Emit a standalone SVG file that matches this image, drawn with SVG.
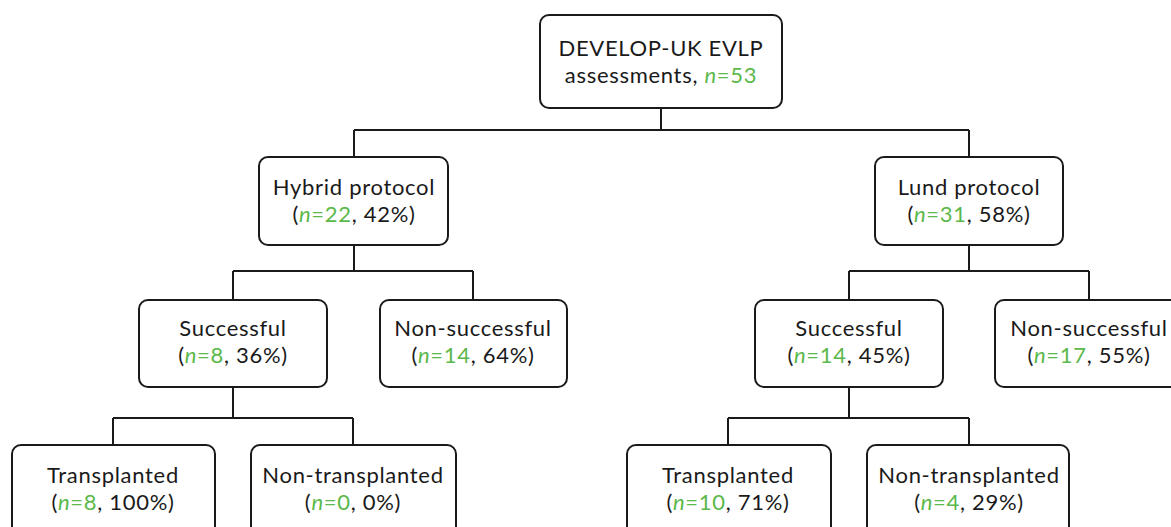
<svg xmlns="http://www.w3.org/2000/svg" width="1171" height="527" viewBox="0 0 1171 527">
<style>
.box{fill:#fff;stroke:#1a1a1a;stroke-width:2}
.ln{fill:none;stroke:#1a1a1a;stroke-width:2}
text{font-family:Lato,"Open Sans","Liberation Sans",sans-serif;font-size:22px;letter-spacing:0.7px;fill:#1a1a1a;text-anchor:middle}
.g{fill:#5bb84a}
.i{font-style:italic}
</style>
<rect width="1171" height="527" fill="#fff"/>
<g id="connectors">
<path class="ln" d="M661,108 V130 M354,130 H969 M354,130 V157 M969,130 V157"/>
<path class="ln" d="M354,245 V271 M233,271 H473 M233,271 V300 M473,271 V300"/>
<path class="ln" d="M969,245 V271 M849,271 H1089 M849,271 V300 M1089,271 V300"/>
<path class="ln" d="M233,387 V418 M113,418 H353 M113,418 V445 M353,418 V445"/>
<path class="ln" d="M849,387 V418 M728,418 H969 M728,418 V445 M969,418 V445"/>
</g>
<g id="root">
<rect class="box" x="540" y="15" width="242" height="93" rx="9"/>
<text x="661" y="56">DEVELOP-UK EVLP</text>
<text x="661" y="83">assessments, <tspan class="g i">n</tspan><tspan class="g">=53</tspan></text>
</g>
<g id="hybrid">
<rect class="box" x="259" y="157" width="189" height="88" rx="9"/>
<text x="354" y="195">Hybrid protocol</text>
<text x="354" y="222">(<tspan class="g i">n</tspan><tspan class="g">=22</tspan>, 42%)</text>
</g>
<g id="lund">
<rect class="box" x="875" y="157" width="188" height="88" rx="9"/>
<text x="969" y="195">Lund protocol</text>
<text x="969" y="222">(<tspan class="g i">n</tspan><tspan class="g">=31</tspan>, 58%)</text>
</g>
<g id="hybrid-successful">
<rect class="box" x="139" y="300" width="188" height="87" rx="9"/>
<text x="233" y="336">Successful</text>
<text x="233" y="363">(<tspan class="g i">n</tspan><tspan class="g">=8</tspan>, 36%)</text>
</g>
<g id="hybrid-nonsuccessful">
<rect class="box" x="380" y="300" width="187" height="87" rx="9"/>
<text x="473" y="336">Non-successful</text>
<text x="473" y="363">(<tspan class="g i">n</tspan><tspan class="g">=14</tspan>, 64%)</text>
</g>
<g id="lund-successful">
<rect class="box" x="755" y="300" width="188" height="87" rx="9"/>
<text x="849" y="336">Successful</text>
<text x="849" y="363">(<tspan class="g i">n</tspan><tspan class="g">=14</tspan>, 45%)</text>
</g>
<g id="lund-nonsuccessful">
<rect class="box" x="995" y="300" width="188" height="87" rx="9"/>
<text x="1089" y="336">Non-successful</text>
<text x="1089" y="363">(<tspan class="g i">n</tspan><tspan class="g">=17</tspan>, 55%)</text>
</g>
<g id="hybrid-transplanted">
<rect class="box" x="12" y="445" width="203" height="100" rx="9"/>
<text x="113" y="483">Transplanted</text>
<text x="113" y="510">(<tspan class="g i">n</tspan><tspan class="g">=8</tspan>, 100%)</text>
</g>
<g id="hybrid-nontransplanted">
<rect class="box" x="251" y="445" width="205" height="100" rx="9"/>
<text x="353" y="483">Non-transplanted</text>
<text x="353" y="510">(<tspan class="g i">n</tspan><tspan class="g">=0</tspan>, 0%)</text>
</g>
<g id="lund-transplanted">
<rect class="box" x="627" y="445" width="204" height="100" rx="9"/>
<text x="728" y="483">Transplanted</text>
<text x="728" y="510">(<tspan class="g i">n</tspan><tspan class="g">=10</tspan>, 71%)</text>
</g>
<g id="lund-nontransplanted">
<rect class="box" x="867" y="445" width="202" height="100" rx="9"/>
<text x="969" y="483">Non-transplanted</text>
<text x="969" y="510">(<tspan class="g i">n</tspan><tspan class="g">=4</tspan>, 29%)</text>
</g>
</svg>
